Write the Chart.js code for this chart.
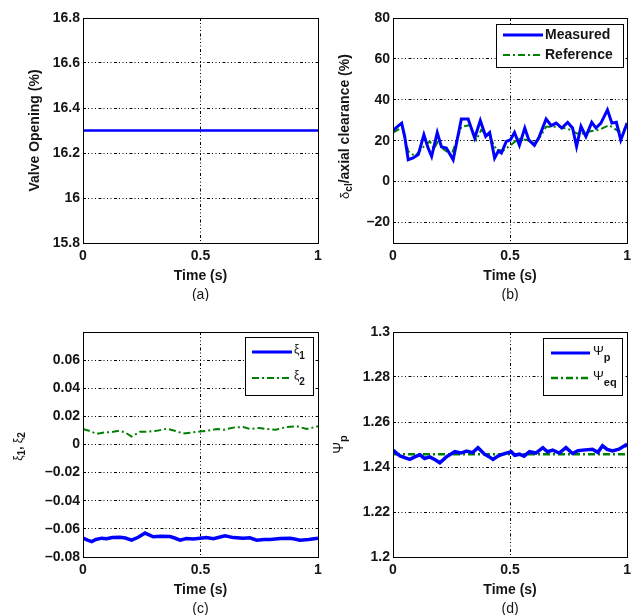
<!DOCTYPE html>
<html>
<head>
<meta charset="utf-8">
<script src="https://cdn.jsdelivr.net/npm/chart.js@4.4.1/dist/chart.umd.min.js"></script>
<style>
  html, body { margin: 0; padding: 0; background: #fff; }
  #page { position: relative; width: 636px; height: 615px; overflow: hidden; }
  canvas { position: absolute; }
</style>
</head>
<body>
<div id="page">
  <canvas id="chartA" width="330" height="301" style="left:0;top:0"></canvas>
  <canvas id="chartB" width="326" height="301" style="left:310px;top:0"></canvas>
  <canvas id="chartC" width="330" height="301" style="left:0;top:314px"></canvas>
  <canvas id="chartD" width="326" height="301" style="left:310px;top:314px"></canvas>
</div>
<script>
// ---- data ----
const xTicks = [0, 0.5, 1];

// (a) valve opening
const timeValve = [0, 1];
const valveOpening = [16.3, 16.3];
const yTicksA = [15.8, 16, 16.2, 16.4, 16.6, 16.8];

// (b) tip clearance
const timeMeasured = [0, 0.02, 0.037, 0.05, 0.065, 0.086, 0.108, 0.132, 0.15, 0.165, 0.189, 0.207,
  0.228, 0.257, 0.292, 0.321, 0.349, 0.373, 0.396, 0.413, 0.434, 0.45, 0.463, 0.484, 0.501, 0.519,
  0.54, 0.563, 0.58, 0.604, 0.625, 0.654, 0.676, 0.697, 0.721, 0.746, 0.767, 0.784, 0.803, 0.824,
  0.849, 0.867, 0.888, 0.916, 0.935, 0.954, 0.973, 1.0];
const measured = [25, 27, 28.6, 22, 10.7, 11.6, 13.2, 22.9, 16.4, 12.3, 24, 17,
  16.4, 10.7, 30.6, 30.6, 21.3, 29.9, 22.1, 24, 11.5, 15, 14, 19.7, 20.4, 24,
  17.8, 26.2, 20.4, 17.8, 22, 30.6, 27.4, 28.6, 26.2, 28.9, 26.2, 17.2, 27, 22,
  29, 26.2, 28.6, 35.1, 28.6, 29, 20.4, 28.6];
const timeReference = [0, 0.04, 0.065, 0.094, 0.13, 0.157, 0.175, 0.193, 0.214, 0.25, 0.292, 0.328,
  0.356, 0.377, 0.413, 0.441, 0.469, 0.505, 0.535, 0.569, 0.611, 0.654, 0.71, 0.753, 0.796, 0.838,
  0.881, 0.923, 0.965, 1.0];
const reference = [24, 26.5, 14.8, 12.5, 17, 19.7, 16, 20, 16, 13, 26.8, 27.6,
  20.4, 25.3, 22, 15.8, 15, 18, 21, 20.4, 18.7, 26.8, 26.8, 25.5, 23, 24.5,
  25.3, 27.6, 24.5, 26];
const yTicksB = [-20, 0, 20, 40, 60, 80];

// (c) xi1, xi2
const timeXi1 = [0, 0.02, 0.037, 0.055, 0.079, 0.1, 0.125, 0.157, 0.18, 0.207, 0.235, 0.264, 0.299,
  0.33, 0.37, 0.39, 0.413, 0.44, 0.47, 0.498, 0.525, 0.555, 0.58, 0.604, 0.64, 0.682, 0.71, 0.739,
  0.77, 0.796, 0.84, 0.881, 0.9, 0.923, 0.96, 1.0];
const xi1 = [-0.0665, -0.068, -0.069, -0.0675, -0.0666, -0.067, -0.0662, -0.066, -0.0665, -0.068,
  -0.066, -0.063, -0.0656, -0.0652, -0.0655, -0.0665, -0.068, -0.0668, -0.0672, -0.0666, -0.0662,
  -0.067, -0.066, -0.065, -0.0662, -0.0666, -0.0664, -0.068, -0.0675, -0.0675, -0.0668, -0.0666,
  -0.0672, -0.068, -0.0675, -0.0666];
const timeXi2 = [0, 0.03, 0.058, 0.09, 0.129, 0.155, 0.179, 0.207, 0.243, 0.28, 0.313, 0.356, 0.39,
  0.427, 0.46, 0.498, 0.53, 0.569, 0.6, 0.64, 0.682, 0.711, 0.75, 0.782, 0.82, 0.867, 0.909, 0.952, 1.0];
const xi2 = [0.011, 0.0095, 0.0076, 0.0085, 0.009, 0.0098, 0.0086, 0.0057, 0.009, 0.0092, 0.0097,
  0.0112, 0.0098, 0.0078, 0.0085, 0.0093, 0.0098, 0.011, 0.0105, 0.012, 0.0125, 0.011, 0.0118,
  0.011, 0.0105, 0.0125, 0.013, 0.011, 0.013];
const yTicksC = [-0.08, -0.06, -0.04, -0.02, 0, 0.02, 0.04, 0.06];

// (d) psi_p, psi_eq
const timePsi = [0, 0.03, 0.05, 0.072, 0.095, 0.115, 0.135, 0.157, 0.18, 0.2, 0.228, 0.264, 0.29,
  0.314, 0.34, 0.363, 0.391, 0.41, 0.427, 0.45, 0.469, 0.505, 0.52, 0.54, 0.56, 0.583, 0.61, 0.64,
  0.66, 0.682, 0.71, 0.739, 0.767, 0.79, 0.81, 0.852, 0.875, 0.895, 0.915, 0.938, 0.965, 0.994, 1.0];
const psiP = [1.2475, 1.2449, 1.2442, 1.2434, 1.2446, 1.2454, 1.2438, 1.2445, 1.2432, 1.2419,
  1.2445, 1.2468, 1.2462, 1.2471, 1.2464, 1.2486, 1.2457, 1.2446, 1.2434, 1.245, 1.2457, 1.2468,
  1.2452, 1.2457, 1.2448, 1.2468, 1.2462, 1.2486, 1.2468, 1.2475, 1.2462, 1.2486, 1.246, 1.2472,
  1.2475, 1.2479, 1.2465, 1.2494, 1.2478, 1.2471, 1.2479, 1.2498, 1.249];
const timeEq = [0, 1];
const psiEq = [1.2457, 1.2457];
const yTicksD = [1.2, 1.22, 1.24, 1.26, 1.28, 1.3];

// ---- styling ----
const FAM = "'Liberation Sans', Arial, Helvetica, sans-serif";
const TXT = "#151515";
const BLUE = "#0000ff";
const GREEN = "#008000";
const GRID_DASH = [3, 2, 1, 2.5, 1, 2.5, 1, 2.5];
const DASHDOT = [7, 3, 2, 3];

function fmt(v) {
  const s = String(Math.round(v * 10000) / 10000);
  return s.replace("-", "\u2013");
}

function pts(xs, ys) {
  return xs.map((x, i) => ({ x: x, y: ys[i] }));
}

function lineSet(xs, ys, color, width, dash) {
  return {
    data: pts(xs, ys),
    borderColor: color,
    borderWidth: width,
    borderDash: dash || [],
    pointRadius: 0,
    tension: 0,
    fill: false
  };
}

// rich text (subscripts) drawn left to right from x
function richWidth(ctx, parts) {
  let w = 0;
  parts.forEach((p) => { ctx.font = p[1]; w += ctx.measureText(p[0]).width; });
  return w;
}
function drawRich(ctx, parts, x, y) {
  ctx.textBaseline = "middle";
  ctx.textAlign = "left";
  parts.forEach((p) => {
    ctx.font = p[1];
    ctx.fillText(p[0], x, y + p[2]);
    x += ctx.measureText(p[0]).width;
  });
}

const panelText = {
  id: "panelText",
  afterDraw(chart, args, opts) {
    const ctx = chart.ctx;
    const a = chart.chartArea;
    ctx.save();
    // frame
    ctx.strokeStyle = "#000";
    ctx.lineWidth = 1;
    ctx.setLineDash([]);
    ctx.strokeRect(Math.round(a.left) + 0.5, Math.round(a.top) + 0.5,
      Math.round(a.right - a.left), Math.round(a.bottom - a.top));
    ctx.fillStyle = TXT;
    // x title + panel letter
    const cx = (a.left + a.right) / 2;
    ctx.textAlign = "center";
    ctx.textBaseline = "middle";
    ctx.font = "bold 14px " + FAM;
    ctx.fillText("Time (s)", cx, a.bottom + 33);
    ctx.font = "14px " + FAM;
    ctx.fillText(opts.letter, cx, a.bottom + 52);
    // y title, rotated
    ctx.save();
    ctx.translate(opts.yTitleX, (a.top + a.bottom) / 2 + (opts.yShift || 0));
    ctx.rotate(-Math.PI / 2);
    const w = richWidth(ctx, opts.yTitle);
    drawRich(ctx, opts.yTitle, -w / 2, 0);
    ctx.restore();
    // legend
    if (opts.legend) {
      const L = opts.legend;
      ctx.fillStyle = "#fff";
      ctx.fillRect(L.box[0], L.box[1], L.box[2], L.box[3]);
      ctx.strokeStyle = "#000";
      ctx.lineWidth = 1;
      ctx.strokeRect(L.box[0] + 0.5, L.box[1] + 0.5, L.box[2], L.box[3]);
      L.items.forEach((it, i) => {
        const ds = chart.data.datasets[i];
        ctx.strokeStyle = ds.borderColor;
        ctx.lineWidth = Math.min(ds.borderWidth, 3);
        ctx.setLineDash(ds.borderDash);
        ctx.beginPath();
        ctx.moveTo(L.x1, it.y);
        ctx.lineTo(L.x2, it.y);
        ctx.stroke();
        ctx.setLineDash([]);
        ctx.fillStyle = TXT;
        drawRich(ctx, it.label, L.tx, it.y);
      });
    }
    ctx.restore();
  }
};

function makeChart(id, datasets, yMin, yMax, yTicks, hideTop, text) {
  const canvas = document.getElementById(id);
  return new Chart(canvas, {
    type: "line",
    data: { datasets: datasets },
    options: {
      responsive: false,
      animation: false,
      layout: { padding: { top: 18, right: canvas.width - 318, left: 0, bottom: 0 } },
      scales: {
        x: {
          type: "linear",
          min: 0,
          max: 1,
          afterBuildTicks: (s) => { s.ticks = xTicks.map((v) => ({ value: v })); },
          afterFit: (s) => { s.height = 58; },
          ticks: {
            color: TXT,
            padding: 5,
            maxRotation: 0,
            font: { family: FAM, size: 14, weight: "bold" },
            callback: (v) => fmt(v)
          },
          grid: { color: "#000", lineWidth: 1, drawTicks: false },
          border: { display: false, dash: GRID_DASH }
        },
        y: {
          type: "linear",
          min: yMin,
          max: yMax,
          afterBuildTicks: (s) => { s.ticks = yTicks.map((v) => ({ value: v })); },
          afterFit: (s) => { s.width = 83; },
          ticks: {
            color: TXT,
            padding: 3,
            font: { family: FAM, size: 14, weight: "bold" },
            callback: (v) => (hideTop && v >= yMax - 1e-9 ? "" : fmt(v))
          },
          grid: { color: "#000", lineWidth: 1, drawTicks: false },
          border: { display: false, dash: GRID_DASH }
        }
      },
      plugins: {
        legend: { display: false },
        tooltip: { enabled: false },
        panelText: text
      }
    },
    plugins: [panelText]
  });
}

makeChart("chartA",
  [lineSet(timeValve, valveOpening, BLUE, 2.5)],
  15.8, 16.8, yTicksA, false,
  { letter: "(a)", yTitleX: 35, yTitle: [["Valve Opening (%)", "bold 14px " + FAM, 0]] });

makeChart("chartB",
  [lineSet(timeMeasured, measured, BLUE, 3), lineSet(timeReference, reference, GREEN, 2, DASHDOT)],
  -30, 80, yTicksB, false,
  {
    letter: "(b)", yTitleX: 35, yShift: -4,
    yTitle: [["\u03b4", "13px " + FAM, 0], ["cl", "bold 10px " + FAM, 4], ["/axial clearance (%)", "bold 14px " + FAM, 0]],
    legend: {
      box: [186, 24, 127, 43], x1: 193, x2: 233, tx: 235,
      items: [
        { y: 35, label: [["Measured", "bold 14px " + FAM, 0]] },
        { y: 55, label: [["Reference", "bold 14px " + FAM, 0]] }
      ]
    }
  });

makeChart("chartC",
  [lineSet(timeXi1, xi1, BLUE, 3.5), lineSet(timeXi2, xi2, GREEN, 2, DASHDOT)],
  -0.08, 0.08, yTicksC, true,
  {
    letter: "(c)", yTitleX: 19, yShift: 2,
    yTitle: [["\u03be", "12px " + FAM, 0], ["1", "bold 10px " + FAM, 3], [", ", "bold 12px " + FAM, 0],
      ["\u03be", "12px " + FAM, 0], ["2", "bold 10px " + FAM, 3]],
    legend: {
      box: [245, 23, 68, 58], x1: 252, x2: 292, tx: 294,
      items: [
        { y: 38, label: [["\u03be", "12px " + FAM, -2], ["1", "bold 10px " + FAM, 4]] },
        { y: 64, label: [["\u03be", "12px " + FAM, -2], ["2", "bold 10px " + FAM, 4]] }
      ]
    }
  });

makeChart("chartD",
  [lineSet(timePsi, psiP, BLUE, 3.5), lineSet(timeEq, psiEq, GREEN, 2.5, DASHDOT)],
  1.2, 1.3, yTicksD, false,
  {
    letter: "(d)", yTitleX: 29,
    yTitle: [["\u03a8", "14px " + FAM, 0], ["p", "bold 11px " + FAM, 5]],
    legend: {
      box: [233, 24, 79, 57], x1: 241, x2: 280, tx: 283,
      items: [
        { y: 39, label: [["\u03a8", "13px " + FAM, -2], ["p", "bold 11px " + FAM, 5]] },
        { y: 64, label: [["\u03a8", "13px " + FAM, -2], ["eq", "bold 11px " + FAM, 5]] }
      ]
    }
  });
</script>
</body>
</html>
